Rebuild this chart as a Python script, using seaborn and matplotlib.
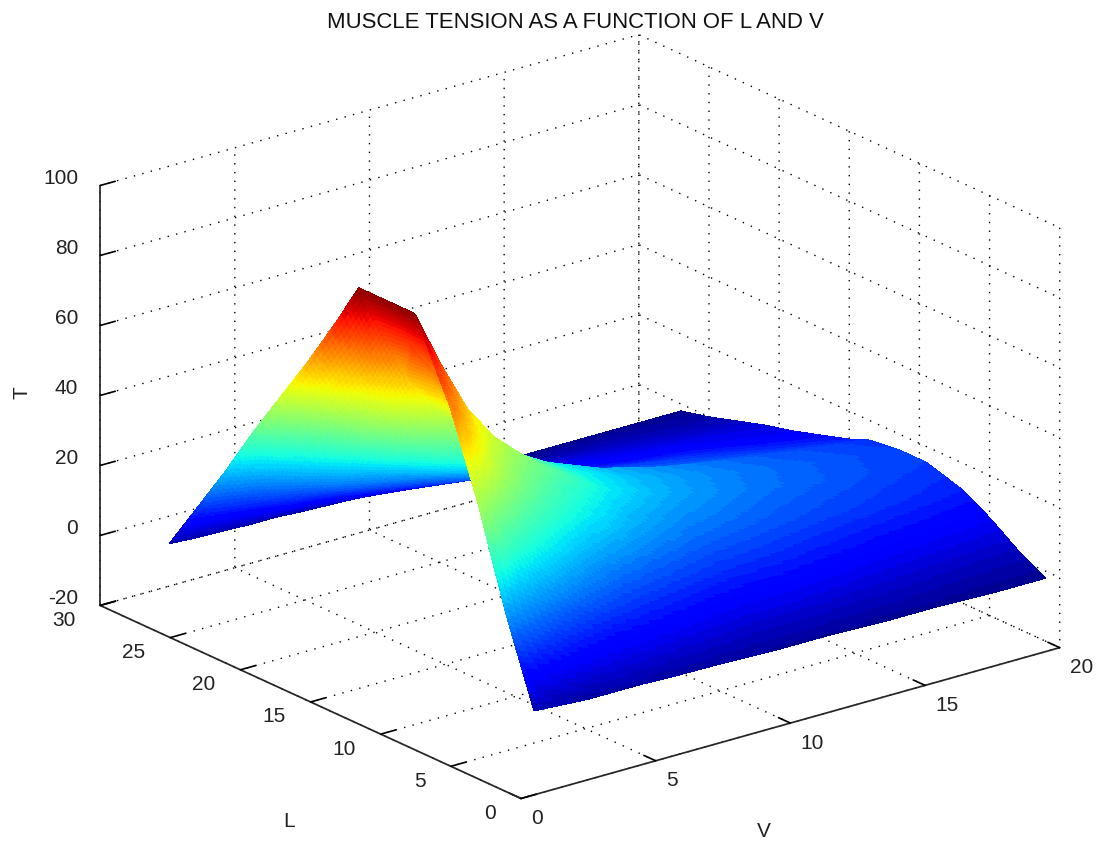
"""Muscle tension surface T(L, V) drawn with a jet colour ramp."""
import matplotlib
matplotlib.use('Agg')
import matplotlib.pyplot as plt
from matplotlib.ticker import NullFormatter
from mpl_toolkits.mplot3d import proj3d
import numpy as np
import seaborn as sns

# values
velocity = [1, 2, 3, 4, 5, 6, 8, 10, 12, 14, 16, 18, 20]
length = [1, 3, 5, 7, 9.5, 11.5, 13.5, 15, 17, 19, 21, 23, 25, 27]
t_v01 = [1, 25, 53, 77, 99, 99, 99, 87, 72, 58, 44, 29, 15, 1]
t_v02 = [0.5, 20, 44, 64, 82, 83, 82, 70, 58, 47, 35, 24, 12, 0.5]
t_v03 = [0, 16, 36, 52, 67, 68, 67, 56, 46, 37, 28, 19, 10, 0.3]
t_v04 = [0, 13, 30, 44, 57, 58, 57, 47, 38, 31, 23, 16, 8, 0]
t_v05 = [0, 11, 25, 38, 50, 50, 49, 40, 33, 27, 20, 14, 7, 0]
t_v06 = [-0.3, 10, 21, 33, 44, 44, 43, 35, 29, 24, 18, 12, 6, -0.5]
t_v08 = [-0.5, 8, 17, 26, 34, 35, 34, 29, 24, 19, 14, 9, 4, -1]
t_v10 = [-1, 6, 14, 21, 28, 29, 28, 24, 20, 16, 12, 7, 3, -2]
t_v12 = [-1, 6, 13, 19, 24, 25, 24, 20, 17, 13, 9, 6, 2, -3]
t_v14 = [-1.5, 5, 11.5, 17, 21, 22, 21, 18, 15, 11, 8, 5, 1, -2]
t_v16 = [-1.5, 4, 10, 15.5, 19, 19.5, 18.5, 16, 13, 10, 7, 4, 1, -2]
t_v18 = [-2, 3, 9, 14, 17, 17.5, 16.5, 14, 11, 8, 6, 3, 0.5, -2]
t_v20 = [-2, 2.5, 8, 12.5, 15.5, 15.5, 14.5, 12, 9.5, 7, 5, 2.5, 0, -2]
tension = [t_v01, t_v02, t_v03, t_v04, t_v05, t_v06, t_v08,
           t_v10, t_v12, t_v14, t_v16, t_v18, t_v20]

v_ticks = [0, 5, 10, 15, 20]
l_ticks = [0, 5, 10, 15, 20, 25, 30]
t_ticks = [-20, 0, 20, 40, 60, 80, 100]


def shade_grid(values, steps):
    """Split every cell into smaller facets, for smooth colour only."""
    index = np.arange(len(values))
    return np.interp(np.linspace(0, len(values) - 1, (len(values) - 1) * steps + 1),
                     index, values)


def tick_text(text, point, dx, dy, ha):
    """Tick label at a pixel offset from its point on the box edge."""
    x, y, _ = proj3d.proj_transform(*point, axes.get_proj())
    axes.annotate(text, (x, y), xytext=(dx, dy), textcoords='offset pixels',
                  ha=ha, va='center', fontsize=15, color='#222222',
                  annotation_clip=False)


sns.set_theme(style='white', font='Liberation Sans',
              rc={'xtick.bottom': True, 'ytick.left': True})
figure = plt.figure(figsize=(11.03, 8.45), dpi=100)
axes = figure.add_axes([17 / 1103, -6.5 / 845, 1, 1], projection='3d',
                       proj_type='ortho')
axes.view_init(elev=21, azim=-128)
axes.set_box_aspect((1, 1, 0.658), zoom=1.225)

# bilinear facets inside each table cell, like interpolated shading
fine_v = shade_grid(velocity, 10)
fine_l = shade_grid(length, 16)
rows = np.array([np.interp(fine_l, length, row) for row in tension])
fine_t = np.array([np.interp(fine_v, velocity, column) for column in rows.T])
grid_v, grid_l = np.meshgrid(fine_v, fine_l)

jet = matplotlib.colormaps['jet'].resampled(64)
surface = axes.plot_surface(grid_v, grid_l, fine_t, cmap=jet, vmin=-4, vmax=100,
                            rstride=1, cstride=1, linewidth=0, antialiased=False)
surface.set_clip_on(False)  # square axes box is narrower than the figure

axes.set_xlim(0, 20, view_margin=0)
axes.set_ylim(0, 30, view_margin=0)
axes.set_zlim(-20, 100, view_margin=0)
axes.set_xticks(v_ticks)
axes.set_yticks(l_ticks)
axes.set_zticks(t_ticks)

# no panes, dotted black grid, thin solid axis lines
for axis in (axes.xaxis, axes.yaxis, axes.zaxis):
    axis.set_pane_color((1, 1, 1, 1))
    axis.set_major_formatter(NullFormatter())
    axis._axinfo['grid'].update(color='black', linewidth=1.0,
                                linestyle=(0, (1, 5.3)))
    axis._axinfo['axisline']['linewidth'] = 1.2
    axis._axinfo['axisline']['color'] = 'black'
    axis._axinfo['tick']['outward_factor'] = 0.35
    axis._axinfo['tick']['inward_factor'] = 0.0
    axis._axinfo['tick']['linewidth'] = {True: 1.2, False: 1.2}
axes.tick_params(color='black')

# mplot3d pushes its labels too far out, so they are placed by hand
for v in v_ticks:
    tick_text(str(v), (v, 0, -20), 10, -19, 'left')
for l in l_ticks:
    tick_text(str(l), (0, l, -20), -25, -14, 'right')
for t in t_ticks:
    tick_text(str(t), (0, 30, t), -22, 8, 'right')

figure.text(575 / 1103, 1 - 22 / 845, 'MUSCLE TENSION AS A FUNCTION OF L AND V',
            fontsize=15.9, ha='center', va='center', color='#111111')
figure.text(22 / 1103, 1 - 393 / 845, 'T', fontsize=15, rotation=90,
            ha='center', va='center', color='#222222')
figure.text(289 / 1103, 1 - 822 / 845, 'L', fontsize=15,
            ha='center', va='center', color='#222222')
figure.text(764 / 1103, 1 - 832 / 845, 'V', fontsize=15,
            ha='center', va='center', color='#222222')

figure.savefig('out.png', dpi=100, facecolor='white')
